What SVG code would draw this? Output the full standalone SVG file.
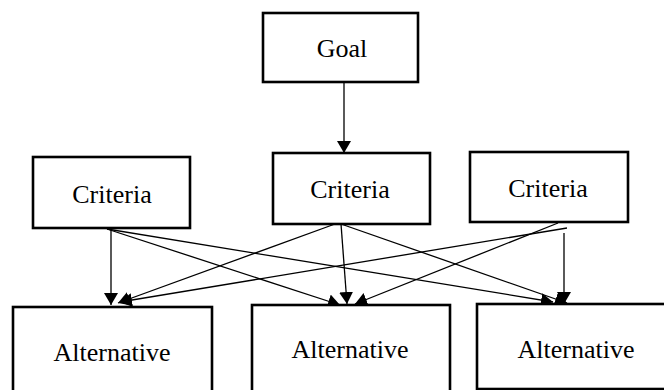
<svg xmlns="http://www.w3.org/2000/svg" width="664" height="390" viewBox="0 0 664 390">
<style>
.box{fill:#fff;stroke:#000;stroke-width:2.6}
.lbl{font-family:"Liberation Serif","Times New Roman",serif;font-size:26px;fill:#000;text-anchor:middle}
.c{stroke:#000;stroke-width:1.3;fill:none;marker-end:url(#ah)}
</style>
<defs>
<marker id="ah" markerUnits="userSpaceOnUse" markerWidth="14" markerHeight="14" refX="12" refY="7" orient="auto" viewBox="0 0 14 14">
<path d="M0,0 L12,7 L0,14 z" fill="#000"/>
</marker>
</defs>
<rect width="664" height="390" fill="#fff"/>
<g id="connectors">
<line class="c" x1="344" y1="82" x2="344" y2="153"/>
<line class="c" x1="111" y1="229" x2="111" y2="305"/>
<line class="c" x1="107" y1="229" x2="340" y2="305"/>
<line class="c" x1="107" y1="229" x2="553" y2="302"/>
<line class="c" x1="335" y1="224" x2="118" y2="303"/>
<line class="c" x1="341" y1="224" x2="347" y2="304"/>
<line class="c" x1="341" y1="224" x2="567" y2="303"/>
<line class="c" x1="558" y1="223" x2="355" y2="304"/>
<line class="c" x1="567" y1="228" x2="120" y2="302"/>
<line class="c" x1="564" y1="233" x2="564" y2="304"/>
</g>
<g id="goal">
<rect class="box" x="263" y="13" width="155" height="69"/>
<text class="lbl" x="342" y="57">Goal</text>
</g>
<g id="criteria1">
<rect class="box" x="33" y="157" width="157" height="71"/>
<text class="lbl" x="112" y="203">Criteria</text>
</g>
<g id="criteria2">
<rect class="box" x="273" y="153" width="157" height="71"/>
<text class="lbl" x="350" y="198">Criteria</text>
</g>
<g id="criteria3">
<rect class="box" x="470" y="152" width="158" height="70"/>
<text class="lbl" x="548" y="197">Criteria</text>
</g>
<g id="alternative1">
<rect class="box" x="13" y="307" width="199" height="100"/>
<text class="lbl" x="112" y="361">Alternative</text>
</g>
<g id="alternative2">
<rect class="box" x="252" y="305" width="198" height="100"/>
<text class="lbl" x="350" y="358">Alternative</text>
</g>
<g id="alternative3">
<rect class="box" x="477" y="304" width="200" height="85"/>
<text class="lbl" x="576" y="358">Alternative</text>
</g>
</svg>
